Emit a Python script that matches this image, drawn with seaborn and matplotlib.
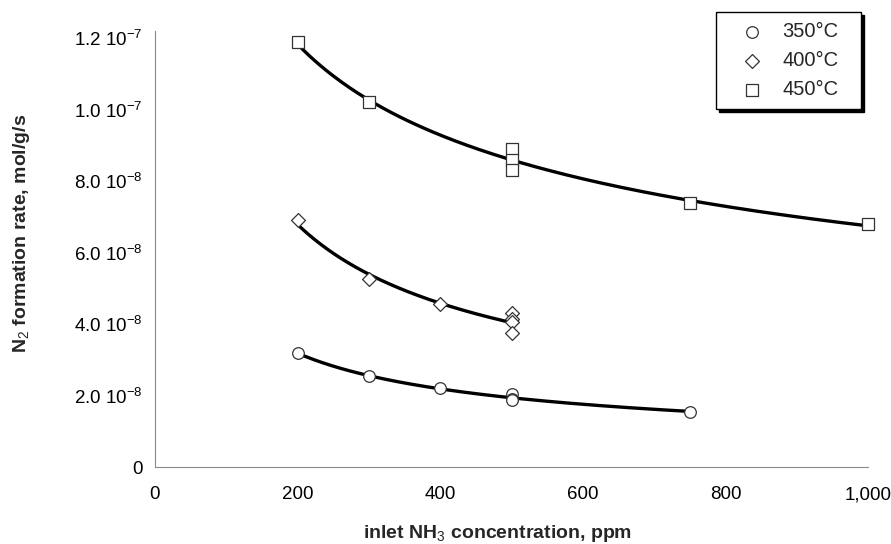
import numpy as np
import pandas as pd
import matplotlib
matplotlib.use("Agg")
import matplotlib.pyplot as plt
import seaborn as sns
from matplotlib.ticker import FixedLocator, FixedFormatter, MultipleLocator

# ---- data ----
x_350 = [200, 300, 400, 500, 500, 500, 750]
y_350 = [3.18e-8, 2.55e-8, 2.2e-8, 2.05e-8, 1.9e-8, 1.87e-8, 1.55e-8]

x_400 = [200, 300, 400, 500, 500, 500, 500]
y_400 = [6.9e-8, 5.25e-8, 4.55e-8, 4.3e-8, 4.15e-8, 4.05e-8, 3.75e-8]

x_450 = [200, 300, 500, 500, 500, 750, 1000]
y_450 = [1.19e-7, 1.02e-7, 8.9e-8, 8.6e-8, 8.3e-8, 7.4e-8, 6.8e-8]

series_labels = ["350°C", "400°C", "450°C"]
x_ticks = [0, 200, 400, 600, 800, 1000]
x_tick_labels = ["0", "200", "400", "600", "800", "1,000"]
y_ticks = [0, 2e-8, 4e-8, 6e-8, 8e-8, 1e-7, 1.2e-7]
y_tick_labels = ["0", "2.0 10$^{-8}$", "4.0 10$^{-8}$", "6.0 10$^{-8}$",
                 "8.0 10$^{-8}$", "1.0 10$^{-7}$", "1.2 10$^{-7}$"]

sns.set_theme(style="white")
plt.rcParams["font.family"] = ["Liberation Sans", "DejaVu Sans"]
plt.rcParams["mathtext.fontset"] = "custom"
plt.rcParams["mathtext.rm"] = "Liberation Sans"
plt.rcParams["mathtext.it"] = "Liberation Sans:italic"
plt.rcParams["mathtext.bf"] = "Liberation Sans:bold"

fig = plt.figure(figsize=(8.91, 5.44), dpi=100)
ax = fig.add_axes([155 / 891, 1 - 467 / 544, (868 - 155) / 891, (467 - 31) / 544])

frames = []
for xs, ys, lab in [(x_350, y_350, series_labels[0]),
                    (x_400, y_400, series_labels[1]),
                    (x_450, y_450, series_labels[2])]:
    frames.append(pd.DataFrame({"x": xs, "y": ys, "T": lab}))
df = pd.concat(frames, ignore_index=True)

# power-law trend lines fitted to each series
for lab in series_labels:
    sub = df[df["T"] == lab]
    b, a = np.polyfit(np.log(sub["x"]), np.log(sub["y"]), 1)
    xg = np.linspace(sub["x"].min(), sub["x"].max(), 200)
    fit = pd.DataFrame({"x": xg, "y": np.exp(a) * xg ** b})
    sns.lineplot(data=fit, x="x", y="y", ax=ax, color="black", lw=2.4,
                 legend=False, zorder=2)

markers = {"350°C": ("o", 70), "400°C": ("D", 50), "450°C": ("s", 75)}
for lab in series_labels:
    sub = df[df["T"] == lab]
    m, s = markers[lab]
    sns.scatterplot(data=sub, x="x", y="y", ax=ax, marker=m, s=s,
                    facecolor="white", edgecolor="#333333", linewidth=0.9,
                    label=lab, zorder=3, clip_on=False)

ax.set_xlim(0, 1000)
ax.set_ylim(0, 1.22e-7)
ax.xaxis.set_major_locator(FixedLocator(x_ticks))
ax.xaxis.set_major_formatter(FixedFormatter(x_tick_labels))
ax.xaxis.set_minor_locator(MultipleLocator(50))
ax.yaxis.set_major_locator(FixedLocator(y_ticks))
ax.yaxis.set_major_formatter(FixedFormatter(y_tick_labels))
ax.yaxis.set_minor_locator(MultipleLocator(5e-9))

for side in ["top", "right"]:
    ax.spines[side].set_visible(False)
for side in ["left", "bottom"]:
    ax.spines[side].set_color("#8a8a8a")
    ax.spines[side].set_linewidth(0.8)

ax.tick_params(axis="both", which="major", direction="in", length=6,
               width=0.8, color="#8a8a8a", labelsize=13.5, labelcolor="black")
ax.tick_params(axis="both", which="minor", direction="in", length=3.5,
               width=0.7, color="#8a8a8a")
ax.tick_params(axis="x", which="major", pad=14)
ax.tick_params(axis="y", which="major", pad=9)

ax.set_xlabel("inlet NH$_3$ concentration, ppm", fontsize=14,
              fontweight="bold", labelpad=14)
ax.set_ylabel("N$_2$ formation rate, mol/g/s", fontsize=14,
              fontweight="bold", labelpad=30)
ax.xaxis.label.set_x(0.48)
ax.yaxis.label.set_y(0.535)

leg = ax.legend(loc="upper left",
                bbox_to_anchor=(716 / 891, 1 - 109 / 544, 145 / 891, 97 / 544),
                bbox_transform=fig.transFigure, borderaxespad=0, mode="expand",
                frameon=True, fancybox=False, shadow={"color": "black", "alpha": 1},
                fontsize=14.5, labelspacing=0.5, handletextpad=0.2,
                borderpad=0.5, handlelength=2.6, framealpha=1)
leg.get_frame().set_edgecolor("black")
leg.get_frame().set_linewidth(1.0)

fig.savefig("out.png", dpi=100)
